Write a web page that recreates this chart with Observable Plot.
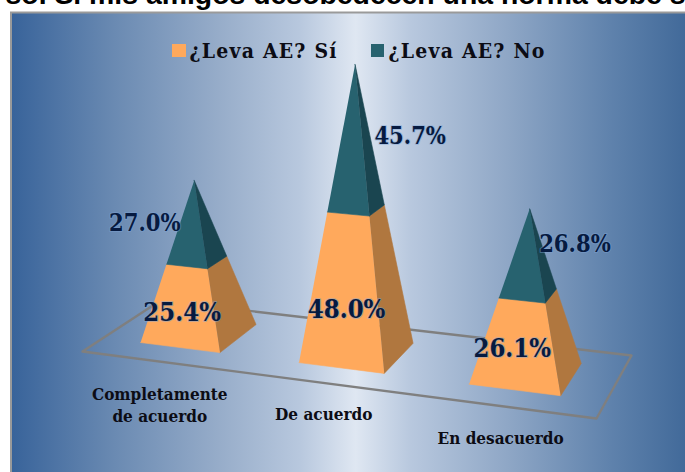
<!DOCTYPE html>
<html lang="es">
<head>
<meta charset="utf-8">
<style>
html,body{margin:0;padding:0;background:#fff;overflow:hidden}
svg{display:block}
.legend-text text, .legend-text{letter-spacing:1.2px}
</style>
<script src="https://cdn.jsdelivr.net/npm/d3@7"></script>
<script src="https://cdn.jsdelivr.net/npm/@observablehq/plot@0.6"></script>
</head>
<body>
<div id="chart"></div>
<script>
// ---- data ----
const titleText = "so. Si mis amigos desobedecen una norma debe s";
const categories = ["Completamente\nde acuerdo", "De acuerdo", "En desacuerdo"];
const seriesNames = ["¿Leva AE? Sí", "¿Leva AE? No"];
const yesValues = [25.4, 48.0, 26.1];
const noValues = [27.0, 45.7, 26.8];

// ---- styles ----
const SERIF = "'DejaVu Serif Condensed','DejaVu Serif','Liberation Serif',serif";
const frontColors = ["#ffa95c", "#27626f"];
const sideColors = ["#b0773f", "#1a4550"];
const labelColor = "#061a40";
const labelSizes = [25.5, 23.5];
const gradientStops = [
  [0, "#38639a"], [0.15, "#6a8ab2"], [0.3, "#96acc9"], [0.42, "#b8c8de"],
  [0.5, "#dfe7f2"], [0.58, "#b8c8de"], [0.72, "#8fa7c6"], [0.87, "#5f82ac"], [1, "#3c6596"]
];

// ---- camera: maps floor (u, v) and height (z, in percent) to the picture ----
const cam = {a: 452, b: 93.84, c: 82, p: -0.195, d: 23.52, e: -21.29, f: 351, q: -3.105,
             g: -0.10403, h: 0.09903, k: -0.000492};
function project(u, v, z) {
  const w = cam.g * u + cam.h * v + 1 + cam.k * z;
  return {
    x: (cam.a * u + cam.b * v + cam.c + cam.p * z) / w,
    y: (cam.d * u + cam.e * v + cam.f + cam.q * z) / w
  };
}

// Floor layout: category bands along u, shared depth along v.
const band = d3.scaleBand().domain(d3.range(categories.length)).range([0, 1]).paddingInner(0.49).paddingOuter(0.245);
const V0 = 0.25, V1 = 0.775;
const labelOffsets = [[[3.5, 2.3], [-31, -9]], [[6, 15], [71, -11]], [[-3, 0], [58, -20]]];
const catLabelOffsets = [[-2, -7], [-2, -9.5], [-1.5, -9.5]];

// Build pyramid faces from the values.
const faces = [];
const dataLabels = [];
categories.forEach((_, i) => {
  const u0 = band(i), u1 = u0 + band.bandwidth();
  const uc = (u0 + u1) / 2, vc = (V0 + V1) / 2;
  const total = yesValues[i] + noValues[i];
  const onEdge = (cu, cv, t) => project(cu + (uc - cu) * t, cv + (vc - cv) * t, t * total);
  const bounds = [[0, yesValues[i] / total], [yesValues[i] / total, 1]];
  bounds.forEach(([t0, t1], s) => {
    const front = [[u0, V0], [u1, V0]];
    const side = [[u1, V0], [u1, V1]];
    [[front, frontColors[s], "f"], [side, sideColors[s], "s"]].forEach(([[A, B], fill, kind]) => {
      const id = `${i}-${s}-${kind}`;
      [onEdge(A[0], A[1], t0), onEdge(B[0], B[1], t0), onEdge(B[0], B[1], t1), onEdge(A[0], A[1], t1)]
        .forEach(pt => faces.push({...pt, id, fill}));
    });
    const value = s === 0 ? yesValues[i] : noValues[i];
    const zMid = (t0 + t1) / 2 * total;
    const anchor = project(uc, V0, zMid);
    const [ox, oy] = labelOffsets[i][s];
    dataLabels.push({x: anchor.x + ox, y: anchor.y + oy, text: value.toFixed(1) + "%", size: labelSizes[s]});
  });
});

const floor = [[0, 0], [1, 0], [1, 1], [0, 1], [0, 0]].map(([u, v]) => project(u, v, 0));
const catLabels = categories.map((text, i) => {
  const p = project(band(i) + band.bandwidth() / 2, 0, -10);
  return {x: p.x + catLabelOffsets[i][0], y: p.y + catLabelOffsets[i][1], text};
});

// Legend and panel layout
const legendSwatches = [{x1: 172, x2: 186, y1: 44, y2: 57, fill: frontColors[0]}, {x1: 371, x2: 384, y1: 44, y2: 57, fill: frontColors[1]}];
const legendTexts = [{x: 189, y: 51, text: seriesNames[0]}, {x: 388, y: 51, text: seriesNames[1]}];

function gradientDefs() {
  const svgNS = "http://www.w3.org/2000/svg";
  const defs = document.createElementNS(svgNS, "defs");
  const lg = document.createElementNS(svgNS, "linearGradient");
  lg.setAttribute("id", "panelGradient");
  gradientStops.forEach(([o, c]) => {
    const st = document.createElementNS(svgNS, "stop");
    st.setAttribute("offset", o);
    st.setAttribute("stop-color", c);
    lg.appendChild(st);
  });
  defs.appendChild(lg);
  return defs;
}

const chart = Plot.plot({
  width: 685, height: 472,
  margin: 0,
  style: {background: "white", overflow: "hidden"},
  x: {domain: [0, 685], range: [0, 685], axis: null},
  y: {domain: [0, 472], range: [0, 472], axis: null},
  color: {type: "identity"},
  marks: [
    gradientDefs,
    Plot.text([titleText], {x: 345, y: 3, text: d => d, fontFamily: "'Liberation Sans',Arial,sans-serif",
      fontWeight: 700, fontSize: 28.4, fill: "#000", textAnchor: "middle", lineAnchor: "bottom"}),
    Plot.rect([{x1: 11, x2: 700, y1: 12.5, y2: 490}], {x1: "x1", x2: "x2", y1: "y1", y2: "y2",
      fill: "url(#panelGradient)", stroke: "#9a9a9a", strokeWidth: 2}),
    Plot.line(floor, {x: "x", y: "y", stroke: "#7f7f7f", strokeWidth: 2.4}),
    Plot.line(faces, {x: "x", y: "y", z: "id", fill: "fill", stroke: "fill", strokeWidth: 0.6}),
    Plot.rect(legendSwatches, {x1: "x1", x2: "x2", y1: "y1", y2: "y2", fill: "fill"}),
    Plot.text(legendTexts, {x: "x", y: "y", text: "text", textAnchor: "start", fontFamily: SERIF,
      fontWeight: 700, fontSize: 21, fill: "#0c0c14", className: "legend-text"}),
    Plot.text(catLabels, {x: "x", y: "y", text: "text", textAnchor: "middle", lineAnchor: "top", fontFamily: SERIF,
      fontWeight: 700, fontSize: 17, lineHeight: 1.3, fill: "#0c0c14"}),
    Plot.text(dataLabels, {x: "x", y: "y", text: "text", fontFamily: SERIF, fontWeight: 700, fontSize: d => d.size,
      fill: labelColor, stroke: "#7ea3d4", strokeOpacity: 0.45, strokeWidth: 2})
  ]
});
document.getElementById("chart").appendChild(chart);
</script>
</body>
</html>
